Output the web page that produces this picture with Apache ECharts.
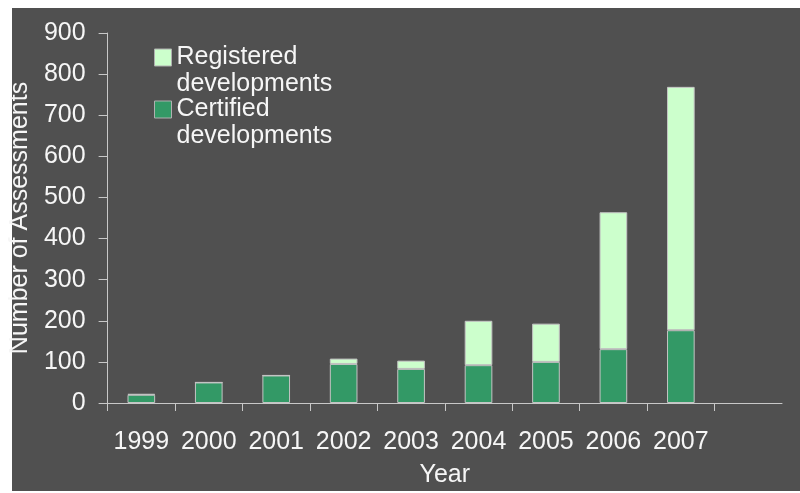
<!DOCTYPE html>
<html>
<head>
<meta charset="utf-8">
<script src="https://cdn.jsdelivr.net/npm/echarts@6/dist/echarts.min.js"></script>
<style>
  html, body { margin: 0; padding: 0; background: #ffffff; }
  #chart { width: 800px; height: 493px; }
</style>
</head>
<body>
<div id="chart"></div>
<script>
// Assessments per year: certified (bottom) and registered-only (stacked on top)
const years = ['1999', '2000', '2001', '2002', '2003', '2004', '2005', '2006', '2007', ''];
const certified = [20, 50, 67, 95, 83, 92, 100, 131, 177, null];
const registered = [2, 0, 0, 13, 20, 108, 93, 333, 592, null];
const yTicks = { min: 0, max: 900, interval: 100 };

const FONT = 'Liberation Sans, Arial, sans-serif';
const TEXT = '#f6f6f6';
const AXIS = '#c8c8c8';

const chart = echarts.init(document.getElementById('chart'));
chart.setOption({
  animation: false,
  backgroundColor: '#ffffff',
  graphic: [{
    type: 'rect', z: -10, silent: true,
    shape: { x: 12, y: 8, width: 788, height: 483 },
    style: { fill: '#505050' }
  }],
  grid: { left: 107, right: 18, top: 33, bottom: 88, containLabel: false },
  legend: {
    orient: 'vertical',
    left: 154, top: 17,
    padding: 0,
    itemWidth: 17, itemHeight: 17,
    itemGap: -29,
    icon: 'rect',
    data: ['Registered developments', 'Certified developments'],
    // leading blank line keeps the swatch level with the first text line
    formatter: function (name) { return '\n' + name.replace(' ', '\n'); },
    textStyle: { color: TEXT, fontFamily: FONT, fontSize: 25, lineHeight: 27 },
    itemStyle: { borderColor: '#b0b0b0', borderWidth: 1 }
  },
  xAxis: {
    type: 'category',
    data: years,
    boundaryGap: true,
    name: 'Year',
    nameLocation: 'middle',
    nameGap: 60,
    nameTextStyle: { color: TEXT, fontFamily: FONT, fontSize: 25 },
    axisLine: { lineStyle: { color: AXIS, width: 1 } },
    axisTick: { show: true, length: 8, interval: 0, alignWithLabel: false, lineStyle: { color: AXIS } },
    axisLabel: { color: TEXT, fontFamily: FONT, fontSize: 25, margin: 27, interval: 0 }
  },
  yAxis: {
    type: 'value',
    min: yTicks.min, max: yTicks.max, interval: yTicks.interval,
    name: 'Number of Assessments',
    nameLocation: 'middle',
    nameGap: 68,
    nameTextStyle: { color: TEXT, fontFamily: FONT, fontSize: 25 },
    axisLine: { show: true, lineStyle: { color: AXIS, width: 1 } },
    axisTick: { show: true, length: 9, lineStyle: { color: AXIS } },
    axisLabel: { color: TEXT, fontFamily: FONT, fontSize: 25, margin: 22 },
    splitLine: { show: false }
  },
  series: [
    {
      name: 'Certified developments',
      type: 'bar', stack: 'total',
      data: certified,
      barWidth: '41%',
      itemStyle: { color: '#339966', borderColor: '#c4c4c4', borderWidth: 1 }
    },
    {
      name: 'Registered developments',
      type: 'bar', stack: 'total',
      data: registered,
      barWidth: '41%',
      itemStyle: { color: '#ccffcc', borderColor: '#c4c4c4', borderWidth: 1 }
    }
  ]
});
</script>
</body>
</html>
